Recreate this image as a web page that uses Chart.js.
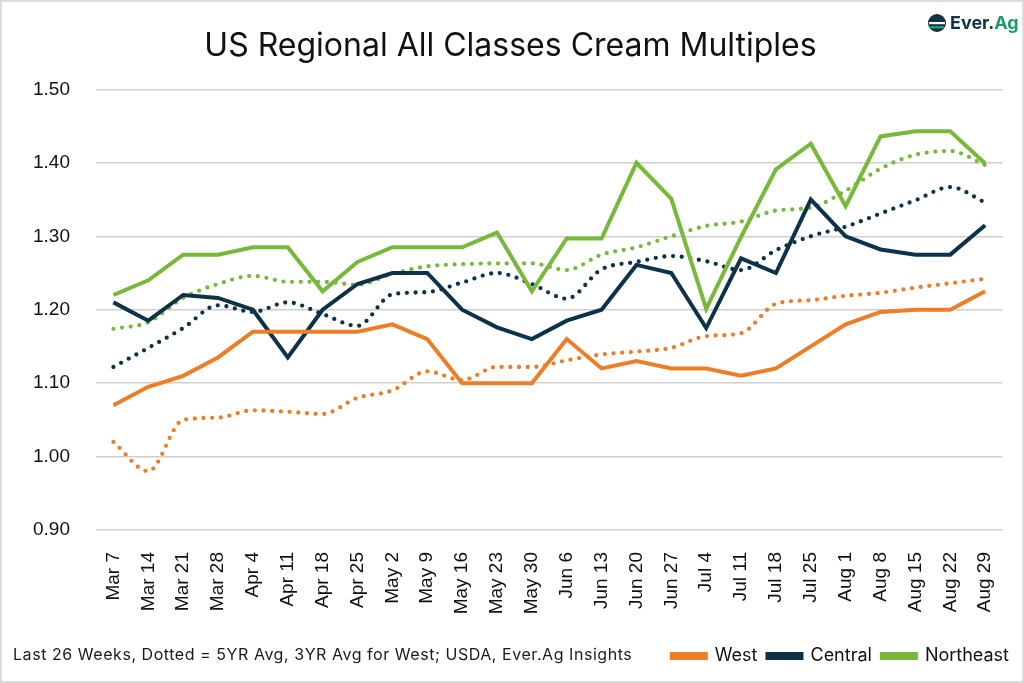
<!DOCTYPE html>
<html>
<head>
<meta charset="utf-8">
<script src="https://cdn.jsdelivr.net/npm/chart.js@4/dist/chart.umd.min.js"></script>
<style>
  html, body { margin: 0; padding: 0; background: #fff; }
  #wrap { position: relative; width: 1024px; height: 683px; box-sizing: border-box; border: 2px solid #dcdcdc; }
  #grafico { position: absolute; left: 0; top: 0; }
  #nota { position: absolute; left: 11px; top: 642px; font: 16px Inter, sans-serif; letter-spacing: 0.55px; color: #1a1a1a; }
  #logo { position: absolute; left: 925px; top: 10px; display: flex; align-items: center; font: bold 18px Inter, sans-serif; color: #123246; }
  #logo .ag { color: #1c9b6c; }
</style>
</head>
<body>
<div id="wrap">
  <canvas id="grafico" width="1020" height="679"></canvas>
  <div id="nota">Last 26 Weeks, Dotted = 5YR Avg, 3YR Avg for West; USDA, Ever.Ag Insights</div>
  <div id="logo">
    <svg width="20" height="20" viewBox="0 0 20 20" style="margin-right:3px">
      <circle cx="10" cy="10" r="9" fill="#123246"/>
      <rect x="2" y="9" width="16" height="2.2" fill="#fff"/>
      <rect x="3" y="13" width="14" height="2.5" fill="#1c9b6c"/>
    </svg>
    <span>Ever.<span class="ag">Ag</span></span>
  </div>
</div>
<script>
// Semanas (eixo x)
const semanas = ['Mar 7', 'Mar 14', 'Mar 21', 'Mar 28', 'Apr 4', 'Apr 11', 'Apr 18', 'Apr 25',
  'May 2', 'May 9', 'May 16', 'May 23', 'May 30', 'Jun 6', 'Jun 13', 'Jun 20', 'Jun 27',
  'Jul 4', 'Jul 11', 'Jul 18', 'Jul 25', 'Aug 1', 'Aug 8', 'Aug 15', 'Aug 22', 'Aug 29'];

// Multiplos semanais
const west = [1.07, 1.095, 1.11, 1.135, 1.17, 1.17, 1.17, 1.17, 1.18, 1.16, 1.10, 1.10, 1.10,
  1.16, 1.12, 1.13, 1.12, 1.12, 1.11, 1.12, 1.15, 1.18, 1.197, 1.20, 1.20, 1.225];
const central = [1.21, 1.185, 1.22, 1.216, 1.20, 1.135, 1.20, 1.235, 1.25, 1.25, 1.20, 1.176, 1.16,
  1.185, 1.20, 1.261, 1.25, 1.175, 1.27, 1.25, 1.35, 1.30, 1.282, 1.275, 1.275, 1.315];
const northeast = [1.22, 1.24, 1.275, 1.275, 1.285, 1.285, 1.225, 1.265, 1.285, 1.285, 1.285, 1.305, 1.225,
  1.297, 1.297, 1.40, 1.351, 1.201, 1.299, 1.391, 1.426, 1.341, 1.436, 1.443, 1.443, 1.399];

// Medias (pontilhado): 3 anos para West, 5 anos para os outros
const westAvg = [1.02, 0.98, 1.05, 1.053, 1.063, 1.061, 1.058, 1.08, 1.09, 1.116, 1.104, 1.122, 1.122,
  1.131, 1.139, 1.143, 1.148, 1.164, 1.168, 1.208, 1.213, 1.219, 1.223, 1.23, 1.236, 1.242];
const centralAvg = [1.122, 1.148, 1.175, 1.206, 1.197, 1.21, 1.194, 1.178, 1.221, 1.224, 1.237, 1.25, 1.235,
  1.215, 1.255, 1.265, 1.273, 1.266, 1.254, 1.281, 1.30, 1.313, 1.331, 1.349, 1.367, 1.346];
const northeastAvg = [1.174, 1.183, 1.216, 1.235, 1.246, 1.238, 1.238, 1.234, 1.249, 1.259, 1.262, 1.263, 1.263,
  1.254, 1.275, 1.285, 1.30, 1.314, 1.32, 1.335, 1.339, 1.362, 1.392, 1.411, 1.416, 1.397];

const yTicks = [0.90, 1.00, 1.10, 1.20, 1.30, 1.40, 1.50];

const cores = { west: '#EE7D27', central: '#0E3247', northeast: '#78B83A' };

function solida(label, data, cor) {
  return {
    label, data,
    borderColor: cor, backgroundColor: cor,
    borderWidth: 4, tension: 0, pointRadius: 0,
    borderJoinStyle: 'miter'
  };
}

function pontilhada(label, data, cor) {
  return {
    label, data,
    borderColor: cor, backgroundColor: cor,
    borderWidth: 4.3, tension: 0.4, pointRadius: 0,
    borderDash: [0, 8.7], borderCapStyle: 'round',
    cubicInterpolationMode: 'monotone'
  };
}

const ctx = document.getElementById('grafico').getContext('2d');
const grafico = new Chart(ctx, {
  type: 'line',
  data: {
    labels: semanas,
    datasets: [
      solida('West', west, cores.west),
      solida('Central', central, cores.central),
      solida('Northeast', northeast, cores.northeast),
      pontilhada('West 3YR Avg', westAvg, cores.west),
      pontilhada('Central 5YR Avg', centralAvg, cores.central),
      pontilhada('Northeast 5YR Avg', northeastAvg, cores.northeast)
    ]
  },
  options: {
    responsive: false,
    animation: false,
    layout: { padding: { left: 0, right: 3, top: 0, bottom: 6 } },
    plugins: {
      title: {
        display: true,
        text: 'US Regional All Classes Cream Multiples',
        color: '#111',
        font: { family: 'Inter', size: 32, weight: 'normal' },
        padding: { top: 25, bottom: 24 }
      },
      legend: {
        position: 'bottom',
        align: 'end',
        labels: {
          filter: item => item.datasetIndex < 3,
          boxWidth: 34, boxHeight: 4,
          color: '#111',
          font: { family: 'Inter', size: 18 },
          padding: 10
        }
      },
      tooltip: { enabled: false }
    },
    scales: {
      y: {
        min: 0.90, max: 1.50,
        afterBuildTicks: axis => { axis.ticks = yTicks.map(v => ({ value: v })); },
        afterFit: axis => { axis.width = 94; },
        border: { display: false },
        grid: { color: '#cfcfcf', lineWidth: 1.5, drawTicks: false },
        ticks: {
          color: '#111', padding: 26,
          font: { family: 'Liberation Sans', size: 19 },
          callback: v => v.toFixed(2)
        }
      },
      x: {
        offset: true,
        border: { display: false },
        grid: { display: false },
        afterFit: axis => { axis.height = 107; },
        ticks: {
          color: '#111', minRotation: 90, maxRotation: 90, padding: 14,
          autoSkip: false,
          font: { family: 'Liberation Sans', size: 19 }
        }
      }
    }
  }
});
</script>
</body>
</html>
